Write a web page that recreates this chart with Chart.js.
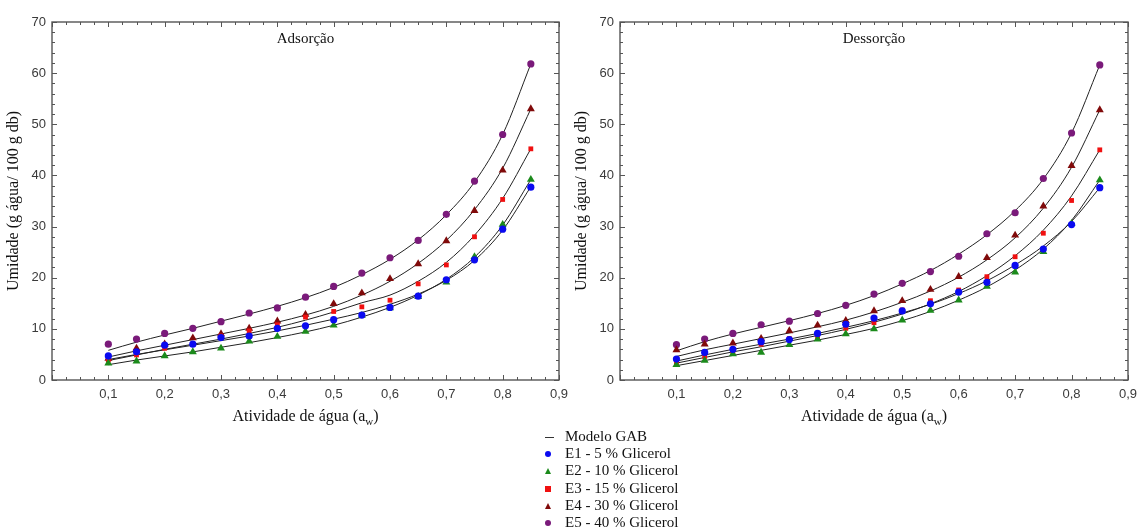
<!DOCTYPE html>
<html>
<head>
<meta charset="utf-8">
<script src="https://cdn.jsdelivr.net/npm/chart.js@4/dist/chart.umd.min.js"></script>
<style>
  body { margin: 0; background: #fff; width: 1137px; height: 529px; position: relative; overflow: hidden; }
  canvas { position: absolute; top: 0; }
  #ads { left: 0; }
  #des { left: 568px; }
  #legend { position: absolute; left: 538px; top: 428px; font: 15px "Liberation Serif", "Times New Roman", serif; color: #111; }
  .row { height: 17.2px; line-height: 17.2px; position: relative; padding-left: 27px; white-space: nowrap; }
  .sym { position: absolute; left: 7px; }
  .line { top: 9px; width: 9px; height: 1px; background: #333; }
  .circle { top: 6px; width: 6px; height: 6px; border-radius: 50%; }
  .square { top: 6px; width: 6px; height: 6px; }
  .tri { top: 6px; width: 0; height: 0; border-left: 3.5px solid transparent; border-right: 3.5px solid transparent; border-bottom: 6px solid; }
</style>
</head>
<body>
<canvas id="ads" width="590" height="430"></canvas>
<canvas id="des" width="580" height="430"></canvas>
<div id="legend"></div>
<script>
// water activity of every measured point
const aw = [0.1, 0.15, 0.2, 0.25, 0.3, 0.35, 0.4, 0.45, 0.5, 0.55, 0.6, 0.65, 0.7, 0.75, 0.8, 0.85];
const xTickLabels = ['', '0,1', '0,2', '0,3', '0,4', '0,5', '0,6', '0,7', '0,8', '0,9'];

// Adsorção - experimental
const adsE1 = [4.7, 5.5, 6.8, 7.0, 8.3, 8.6, 10.1, 10.6, 11.8, 12.7, 14.2, 16.4, 19.6, 23.5, 29.5, 37.7];
const adsE2 = [3.3, 3.7, 4.7, 5.5, 6.2, 7.6, 8.5, 9.5, 10.7, 12.6, 14.1, 16.3, 19.1, 24.1, 30.4, 39.2];
const adsE3 = [3.9, 4.9, 6.2, 7.0, 8.6, 9.6, 10.8, 12.3, 13.4, 14.3, 15.6, 18.8, 22.5, 28.0, 35.3, 45.2];
const adsE4 = [4.2, 6.2, 7.0, 8.2, 9.0, 10.1, 11.5, 12.8, 14.9, 17.0, 19.8, 22.7, 27.2, 33.1, 41.0, 53.0];
const adsE5 = [7.0, 8.0, 9.1, 10.1, 11.4, 13.1, 14.1, 16.2, 18.3, 20.9, 23.9, 27.3, 32.4, 38.9, 48.0, 61.8];
// Adsorção - modelo GAB
const adsE1Gab = [4.0, 5.0, 5.9, 6.8, 7.7, 8.6, 9.6, 10.7, 11.9, 13.2, 14.8, 16.8, 19.5, 23.4, 29.3, 37.8];
const adsE2Gab = [3.0, 3.9, 4.7, 5.5, 6.4, 7.3, 8.3, 9.4, 10.7, 12.3, 14.2, 16.6, 19.7, 24.0, 30.3, 39.2];
const adsE3Gab = [3.8, 4.9, 6.0, 7.0, 8.0, 9.1, 10.3, 11.7, 13.3, 15.1, 16.6, 19.3, 23.0, 28.3, 35.5, 45.2];
const adsE4Gab = [4.5, 5.7, 6.8, 7.9, 9.0, 10.1, 11.3, 12.7, 14.4, 16.6, 19.3, 22.8, 27.3, 33.3, 41.4, 53.0];
const adsE5Gab = [5.8, 7.4, 8.8, 10.1, 11.5, 12.9, 14.4, 16.1, 18.1, 20.6, 23.6, 27.4, 32.3, 38.7, 48.0, 61.8];

// Dessorção - experimental
const desE1 = [4.1, 5.4, 6.0, 7.5, 7.9, 9.1, 10.9, 12.1, 13.5, 14.9, 17.2, 19.1, 22.4, 25.6, 30.4, 37.6];
const desE2 = [3.0, 3.8, 5.1, 5.4, 6.9, 8.0, 9.0, 10.0, 11.7, 13.6, 15.6, 18.3, 21.1, 25.1, 30.6, 39.1];
const desE3 = [3.5, 4.6, 5.5, 7.0, 8.1, 8.5, 10.1, 11.2, 13.7, 15.5, 17.6, 20.2, 24.1, 28.7, 35.1, 45.0];
const desE4 = [5.9, 7.0, 7.2, 8.1, 9.6, 10.7, 11.6, 13.5, 15.5, 17.7, 20.2, 23.9, 28.3, 34.0, 41.9, 52.8];
const desE5 = [6.9, 8.0, 9.1, 10.8, 11.5, 13.0, 14.6, 16.8, 18.9, 21.2, 24.2, 28.6, 32.7, 39.4, 48.3, 61.6];
// Dessorção - modelo GAB
const desE1Gab = [3.7, 4.9, 6.0, 7.0, 8.0, 9.1, 10.3, 11.6, 13.1, 14.8, 16.9, 19.4, 22.5, 26.2, 31.0, 37.6];
const desE2Gab = [2.8, 3.8, 4.8, 5.8, 6.8, 7.8, 8.9, 10.1, 11.6, 13.4, 15.6, 18.2, 21.5, 25.6, 31.2, 39.1];
const desE3Gab = [3.3, 4.4, 5.5, 6.5, 7.6, 8.7, 9.9, 11.3, 12.9, 14.9, 17.3, 20.4, 24.3, 29.3, 36.0, 45.0];
const desE4Gab = [4.6, 5.9, 7.0, 8.1, 9.2, 10.4, 11.7, 13.3, 15.2, 17.4, 20.1, 23.5, 27.8, 33.6, 41.6, 52.8];
const desE5Gab = [5.7, 7.5, 9.0, 10.3, 11.6, 13.0, 14.6, 16.5, 18.8, 21.4, 24.6, 28.4, 33.1, 39.3, 48.3, 61.6];

const seriesNames = ['E1 - 5 % Glicerol', 'E2 - 10 % Glicerol', 'E3 - 15 % Glicerol', 'E4 - 30 % Glicerol', 'E5 - 40 % Glicerol'];
const seriesColors = ['#0a0af0', '#1b8a1b', '#f01010', '#800a0a', '#7a1a7a'];
const seriesShapes = ['circle', 'triangle', 'rect', 'triangle', 'circle'];
const shapeRadius = { circle: 3.6, triangle: 4.6, rect: 3.4 };

const serif = '"Liberation Serif", "Times New Roman", serif';
const sans = '"Liberation Sans", Arial, sans-serif';

function pts(ys) {
    return aw.map((a, i) => ({ x: a, y: ys[i] }));
}

// frame, inward ticks, panel title and x title with subscript
const framePlugin = {
    id: 'frame',
    afterDraw(chart, args, opts) {
        const { ctx, chartArea: a, scales: { x, y } } = chart;
        ctx.save();
        ctx.strokeStyle = '#555';
        ctx.lineWidth = 1;
        for (let i = 0; i <= 36; i++) {
            const px = Math.round(x.getPixelForValue(i * 0.025)) + 0.5;
            const len = i % 4 === 0 ? 5 : 3;
            ctx.beginPath();
            ctx.moveTo(px, a.bottom); ctx.lineTo(px, a.bottom - len);
            ctx.moveTo(px, a.top); ctx.lineTo(px, a.top + len);
            ctx.stroke();
        }
        for (let v = 0; v <= 70; v += 2) {
            const py = Math.round(y.getPixelForValue(v)) + 0.5;
            const len = v % 10 === 0 ? 5 : 3;
            ctx.beginPath();
            ctx.moveTo(a.left, py); ctx.lineTo(a.left + len, py);
            ctx.moveTo(a.right, py); ctx.lineTo(a.right - len, py);
            ctx.stroke();
        }
        ctx.lineWidth = 1.4;
        ctx.strokeRect(a.left, a.top, a.right - a.left, a.bottom - a.top);

        const cx = (a.left + a.right) / 2;
        ctx.fillStyle = '#111';
        ctx.textBaseline = 'alphabetic';
        ctx.textAlign = 'center';
        ctx.font = '15px ' + serif;
        ctx.fillText(opts.title, cx, a.top + 21);

        // Atividade de água (a_w)
        const main = 'Atividade de água (a';
        ctx.font = '16px ' + serif;
        const w1 = ctx.measureText(main).width;
        const w3 = ctx.measureText(')').width;
        ctx.font = '11px ' + serif;
        const w2 = ctx.measureText('w').width;
        let sx = cx - (w1 + w2 + w3) / 2;
        const base = a.bottom + 41;
        ctx.textAlign = 'left';
        ctx.font = '16px ' + serif;
        ctx.fillText(main, sx, base);
        ctx.font = '11px ' + serif;
        ctx.fillText('w', sx + w1, base + 4);
        ctx.font = '16px ' + serif;
        ctx.fillText(')', sx + w1 + w2, base);
        ctx.restore();
    }
};

function buildChart(id, title, points, models, padRight) {
    const datasets = [];
    for (let s = 0; s < 5; s++) {
        datasets.push({
            data: pts(models[s]),
            showLine: true,
            borderColor: '#222',
            borderWidth: 1,
            pointRadius: 0,
            tension: 0.4,
            cubicInterpolationMode: 'monotone',
            order: 2
        });
    }
    for (let s = 0; s < 5; s++) {
        datasets.push({
            data: pts(points[s]),
            showLine: false,
            pointStyle: seriesShapes[s],
            pointRadius: shapeRadius[seriesShapes[s]],
            backgroundColor: seriesColors[s],
            borderColor: seriesColors[s],
            borderWidth: 0,
            order: 1
        });
    }

    return new Chart(document.getElementById(id).getContext('2d'), {
        type: 'scatter',
        data: { datasets: datasets },
        plugins: [framePlugin],
        options: {
            responsive: false,
            animation: false,
            layout: { padding: { left: 0, top: 22, right: padRight, bottom: 0 } },
            plugins: {
                legend: { display: false },
                tooltip: { enabled: false },
                frame: { title: title }
            },
            scales: {
                x: {
                    type: 'linear',
                    min: 0,
                    max: 0.9,
                    grid: { display: false, drawTicks: false },
                    border: { display: false },
                    ticks: {
                        stepSize: 0.1,
                        padding: 7,
                        color: '#3a3a3a',
                        font: { family: sans, size: 13 },
                        maxRotation: 0,
                        callback: (v) => xTickLabels[Math.round(v * 10)]
                    },
                    afterFit: (scale) => { scale.height = 50; }
                },
                y: {
                    min: 0,
                    max: 70,
                    grid: { display: false, drawTicks: false },
                    border: { display: false },
                    ticks: {
                        stepSize: 10,
                        padding: 6,
                        color: '#3a3a3a',
                        font: { family: sans, size: 13 }
                    },
                    title: {
                        display: true,
                        text: 'Umidade (g água/ 100 g db)',
                        color: '#111',
                        font: { family: serif, size: 16 },
                        padding: { top: 4, bottom: 0 }
                    },
                    afterFit: (scale) => { scale.width = 52; }
                }
            }
        }
    });
}

buildChart('ads', 'Adsorção',
    [adsE1, adsE2, adsE3, adsE4, adsE5],
    [adsE1Gab, adsE2Gab, adsE3Gab, adsE4Gab, adsE5Gab], 31);
buildChart('des', 'Dessorção',
    [desE1, desE2, desE3, desE4, desE5],
    [desE1Gab, desE2Gab, desE3Gab, desE4Gab, desE5Gab], 20);

// shared legend
const legend = document.getElementById('legend');
let html = '<div class="row"><span class="sym line"></span>Modelo GAB</div>';
for (let s = 0; s < 5; s++) {
    const shape = seriesShapes[s];
    let style;
    if (shape === 'triangle') style = 'border-bottom-color:' + seriesColors[s];
    else style = 'background:' + seriesColors[s];
    const cls = shape === 'triangle' ? 'tri' : (shape === 'rect' ? 'square' : 'circle');
    html += '<div class="row"><span class="sym ' + cls + '" style="' + style + '"></span>' + seriesNames[s] + '</div>';
}
legend.innerHTML = html;
</script>
</body>
</html>
